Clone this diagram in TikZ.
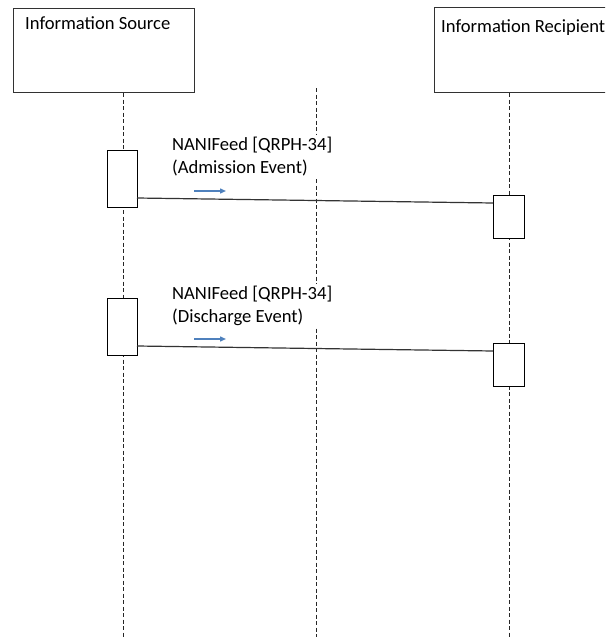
\documentclass[tikz,border=0pt]{standalone}
\usepackage{fontspec}
\setmainfont{Carlito}
\usetikzlibrary{arrows.meta}
\definecolor{arrowblue}{RGB}{79,129,189}
\definecolor{boxline}{RGB}{50,50,50}
\begin{document}
\begin{tikzpicture}[x=1pt,y=-1pt,
  headbox/.style={draw=boxline, line width=1.2pt, fill=white, inner sep=0pt, anchor=north west},
  actbox/.style={draw=black, line width=1.2pt, fill=white, inner sep=0pt, anchor=north west, minimum width=30pt},
  headtext/.style={anchor=base west, inner sep=0pt, font=\fontsize{18.6}{23}\selectfont},
  msgtext/.style={anchor=west, fill=white, align=left, inner sep=2pt, font=\fontsize{18.6}{23}\selectfont},
  lifeline/.style={draw=black!85, line width=1pt, dash pattern=on 4pt off 2.5pt},
  msgline/.style={draw=black!80, line width=1.2pt},
  bluearrow/.style={draw=arrowblue, line width=1.4pt, -{Triangle[length=6pt,width=5pt]}}]
\useasboundingbox (0,0) rectangle (605,637);
\clip (0,0) rectangle (605,637);
% header boxes
\node[headbox, minimum width=181pt, minimum height=84pt] (src) at (13,8) {};
\node[headbox, minimum width=220pt, minimum height=85pt] (rcp) at (434,7) {};
\node[headtext] (srclabel) at (25,29.5) {Information Source};
\node[headtext] (rcplabel) at (441,32) {Information Recipient};
% lifelines
\coordinate (xs) at (123,0);
\coordinate (xr) at (509,0);
\coordinate (srcbot) at (123,637);
\coordinate (midtop) at (316,88);
\coordinate (midbot) at (316,637);
\coordinate (rcpbot) at (509,637);
\draw[lifeline] (src.south -| xs) -- (srcbot);
\draw[lifeline] (midtop) -- (midbot);
\draw[lifeline] (rcp.south -| xr) -- (rcpbot);
% activation boxes
\node[actbox, minimum height=57pt] (sa1) at (107,150) {};
\node[actbox, minimum height=43pt, minimum width=31pt] (ra1) at (493,195) {};
\node[actbox, minimum height=57pt] (sa2) at (107,298) {};
\node[actbox, minimum height=43pt, minimum width=31pt] (ra2) at (493,343) {};
% messages
\coordinate (m1s) at (137,198);
\coordinate (m1e) at (493,203);
\coordinate (m2s) at (137,346);
\coordinate (m2e) at (493,351);
\draw[msgline] (m1s) -- (m1e);
\draw[msgline] (m2s) -- (m2e);
\node[msgtext] (t1) at (170,156.5) {NANIFeed [QRPH-34]\\(Admission Event)};
\node[msgtext] (t2) at (170,306) {NANIFeed [QRPH-34]\\(Discharge Event)};
\coordinate (b1s) at (194,191);
\coordinate (b1e) at (226,191);
\coordinate (b2s) at (194,339);
\coordinate (b2e) at (226,339);
\draw[bluearrow] (b1s) -- (b1e);
\draw[bluearrow] (b2s) -- (b2e);
\end{tikzpicture}
\end{document}
